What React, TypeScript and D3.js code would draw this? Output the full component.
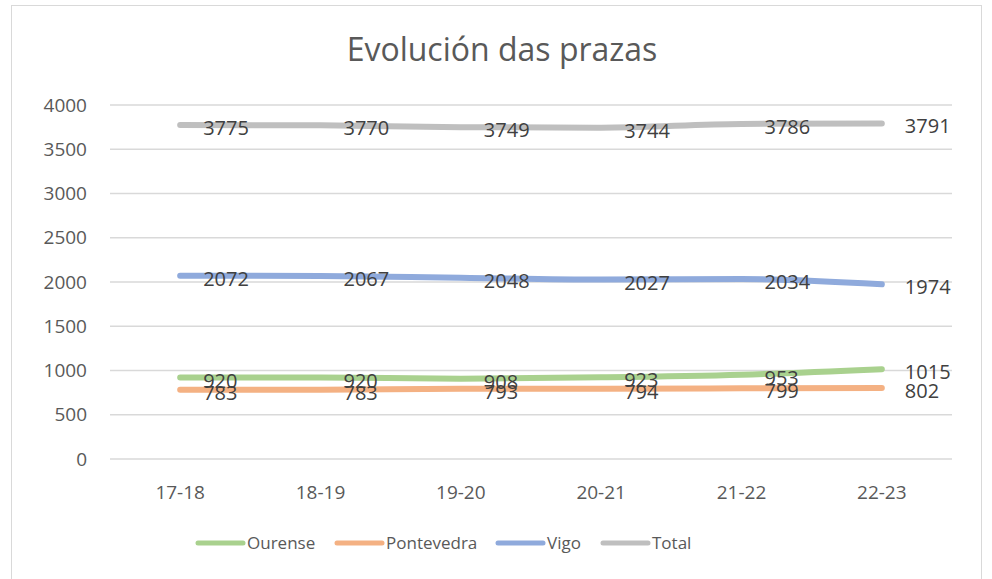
import React from "react";
import * as d3 from "d3";

const categories = ["17-18", "18-19", "19-20", "20-21", "21-22", "22-23"];
const ourense = [920, 920, 908, 923, 953, 1015];
const pontevedra = [783, 783, 793, 794, 799, 802];
const vigo = [2072, 2067, 2048, 2027, 2034, 1974];
const total = [3775, 3770, 3749, 3744, 3786, 3791];
const seriesNames = ["Ourense", "Pontevedra", "Vigo", "Total"];
const yTicks = [0, 500, 1000, 1500, 2000, 2500, 3000, 3500, 4000];

const colors = ["#a9d18e", "#f4b183", "#8faadc", "#bfbfbf"];
const FONT = "'Open Sans', sans-serif";

export default function App() {
  const W = 992, H = 579;
  const left = 110, right = 952, top = 105, bottom = 459;
  const x = d3.scalePoint<string>().domain(categories).range([left, right]).padding(0.5);
  const y = d3.scaleLinear().domain([0, 4000]).range([bottom, top]);
  const allSeries = [ourense, pontevedra, vigo, total];
  const line = d3
    .line<number>()
    .x((_, i) => x(categories[i]) as number)
    .y((d) => y(d))
    .curve(d3.curveMonotoneX);

  const legendX = [198, 337, 498, 603];

  return (
    <svg
      width={W}
      height={H}
      style={{ position: "absolute", left: 0, top: 0, background: "#fff" }}
      fontFamily={FONT}
    >
      <rect x={11.5} y={5.5} width={970} height={600} fill="#fff" stroke="#d9d9d9" strokeWidth={1} />
      <text x={502} y={61} textAnchor="middle" fontSize={32} fill="#595959">
        Evolución das prazas
      </text>
      {yTicks.map((t) => (
        <g key={t}>
          <line x1={left} x2={right} y1={y(t)} y2={y(t)} stroke="#d9d9d9" strokeWidth={1.5} />
          <text x={87} y={y(t)} dy="0.35em" textAnchor="end" fontSize={19} fill="#595959">
            {t}
          </text>
        </g>
      ))}
      {categories.map((c) => (
        <text key={c} x={x(c)} y={492} dy="0.35em" textAnchor="middle" fontSize={19} fill="#595959">
          {c}
        </text>
      ))}
      {allSeries.map((s, k) => (
        <path
          key={k}
          d={line(s) || ""}
          fill="none"
          stroke={colors[k]}
          strokeWidth={6}
          strokeLinecap="round"
          strokeLinejoin="round"
        />
      ))}
      {allSeries.map((s, k) =>
        s.map((v, i) => (
          <text
            key={`${k}-${i}`}
            x={(x(categories[i]) as number) + 23}
            y={y(v) + 3}
            dy="0.35em"
            fontSize={20}
            fill="#404040"
          >
            {v}
          </text>
        ))
      )}
      {seriesNames.map((n, k) => (
        <g key={n}>
          <line
            x1={legendX[k]}
            x2={legendX[k] + 45}
            y1={543}
            y2={543}
            stroke={colors[k]}
            strokeWidth={5}
            strokeLinecap="round"
          />
          <text x={legendX[k] + 49} y={543} dy="0.35em" fontSize={17} fill="#595959">
            {n}
          </text>
        </g>
      ))}
    </svg>
  );
}
